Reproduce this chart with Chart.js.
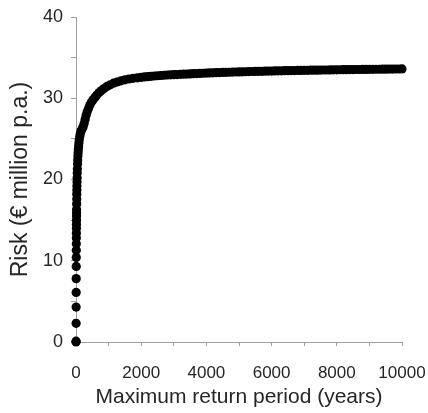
<!DOCTYPE html>
<html>
<head>
<meta charset="utf-8">
<script src="https://cdn.jsdelivr.net/npm/chart.js@4/dist/chart.umd.min.js"></script>
<style>
  html, body { margin: 0; padding: 0; background: #fff; }
  #wrap { width: 428px; height: 413px; position: relative; }
</style>
</head>
<body>
<div id="wrap"><canvas id="c" width="428" height="413"></canvas></div>
<script>
// Maximum return period (years)
const returnPeriods = [
  1, 2, 3, 4, 5, 6, 7, 8, 9, 10, 11, 12, 13, 14, 15, 16, 17, 18, 20, 22,
  24, 26, 28, 31, 34, 38, 42, 47, 52, 58, 65, 72, 80, 90, 100, 115, 130, 150, 170, 195,
  220, 250, 280, 310, 340, 380, 420, 470, 520, 580, 640, 710, 780, 860, 950, 1050, 1150, 1260, 1380, 1500,
  1620, 1750, 1880, 2000, 2100, 2200, 2300, 2400, 2500, 2600, 2700, 2800, 2900, 3000, 3100, 3200, 3300, 3400, 3500, 3600,
  3700, 3800, 3900, 4000, 4100, 4200, 4300, 4400, 4500, 4600, 4700, 4800, 4900, 5000, 5100, 5200, 5300, 5400, 5500, 5600,
  5700, 5800, 5900, 6000, 6100, 6200, 6300, 6400, 6500, 6600, 6700, 6800, 6900, 7000, 7100, 7200, 7300, 7400, 7500, 7600,
  7700, 7800, 7900, 8000, 8100, 8200, 8300, 8400, 8500, 8600, 8700, 8800, 8900, 9000, 9100, 9200, 9300, 9400, 9500, 9600,
  9700, 9800, 9900, 10000
];
// Risk (€ million p.a.)
const riskValues = [
  0, 0.1, 2.3, 4.3, 6.1, 7.8, 9.3, 10.4, 11.3, 12.1, 12.8, 13.4, 14.0, 14.5, 15.0, 15.5, 15.9, 16.3, 17.0, 17.6,
  18.2, 18.7, 19.2, 19.7, 20.2, 20.8, 21.3, 21.9, 22.4, 22.9, 23.3, 23.7, 24.1, 24.5, 24.9, 25.3, 25.6, 25.9, 26.1, 26.3,
  26.5, 26.9, 27.4, 27.9, 28.3, 28.7, 29.1, 29.5, 29.8, 30.1, 30.4, 30.7, 30.95, 31.2, 31.45, 31.65, 31.85, 32.0, 32.15, 32.27,
  32.37, 32.45, 32.52, 32.58, 32.62, 32.66, 32.70, 32.74, 32.77, 32.80, 32.83, 32.86, 32.88, 32.90, 32.92, 32.94, 32.96, 32.98, 33.00, 33.02,
  33.04, 33.06, 33.08, 33.10, 33.12, 33.13, 33.15, 33.16, 33.18, 33.19, 33.20, 33.22, 33.23, 33.24, 33.25, 33.26, 33.28, 33.29, 33.30, 33.31,
  33.32, 33.33, 33.34, 33.35, 33.36, 33.37, 33.38, 33.39, 33.40, 33.41, 33.41, 33.42, 33.43, 33.44, 33.44, 33.45, 33.46, 33.46, 33.47, 33.48,
  33.48, 33.49, 33.50, 33.50, 33.51, 33.52, 33.52, 33.53, 33.53, 33.54, 33.54, 33.55, 33.55, 33.56, 33.56, 33.57, 33.57, 33.58, 33.58, 33.59,
  33.59, 33.60, 33.60, 33.61
];
const xTickLabels = ['0', '2000', '4000', '6000', '8000', '10000'];
const yTickLabels = ['0', '10', '20', '30', '40'];
const xTitle = 'Maximum return period (years)';
const yTitle = 'Risk (€ million p.a.)';

const points = returnPeriods.map((x, i) => ({ x: x, y: riskValues[i] }));
const FONT = '"Liberation Sans", Arial, Helvetica, sans-serif';
const TEXT = '#262626';
const AXIS = '#a0a0a0';

new Chart(document.getElementById('c'), {
  type: 'scatter',
  data: {
    datasets: [{
      data: points,
      pointRadius: 4.6,
      pointHoverRadius: 4.6,
      pointBackgroundColor: '#000',
      pointBorderColor: '#000',
      pointBorderWidth: 0,
      clip: false
    }]
  },
  options: {
    responsive: false,
    animation: false,
    events: [],
    layout: { padding: { left: 0, top: 17, right: 26, bottom: 0 } },
    plugins: { legend: { display: false }, tooltip: { enabled: false } },
    scales: {
      x: {
        type: 'linear',
        min: 0, max: 10000,
        grid: { drawOnChartArea: false, drawTicks: true, tickLength: 4, color: AXIS },
        border: { display: true, color: AXIS, width: 1 },
        ticks: {
          stepSize: 1000,
          maxRotation: 0,
          autoSkip: false,
          padding: 19,
          color: TEXT,
          font: { family: FONT, size: 17, lineHeight: 1 },
          callback: function (v) {
            const s = String(v);
            return xTickLabels.includes(s) ? s : '';
          }
        },
        title: {
          display: true,
          text: xTitle,
          color: TEXT,
          font: { family: FONT, size: 21, lineHeight: 1 },
          padding: { top: 0, bottom: 5 }
        },
        afterFit: function (s) {
          s.height = 71;
          s.paddingLeft = 5;
          s.paddingRight = 24;
        }
      },
      y: {
        type: 'linear',
        min: 0, max: 40,
        grid: { drawOnChartArea: false, drawTicks: true, tickLength: 5, color: AXIS },
        border: { display: true, color: AXIS, width: 1 },
        ticks: {
          stepSize: 5,
          autoSkip: false,
          padding: 8,
          color: TEXT,
          font: { family: FONT, size: 18, lineHeight: 1 },
          callback: function (v) {
            const s = String(v);
            return yTickLabels.includes(s) ? s : '';
          }
        },
        title: {
          display: true,
          text: yTitle,
          color: TEXT,
          font: { family: FONT, size: 23, lineHeight: 1 },
          padding: { top: 9, bottom: 0 }
        },
        afterFit: function (s) {
          s.width = 76;
          s.paddingTop = 9;
          s.paddingBottom = 9;
        }
      }
    }
  }
});
</script>
</body>
</html>
